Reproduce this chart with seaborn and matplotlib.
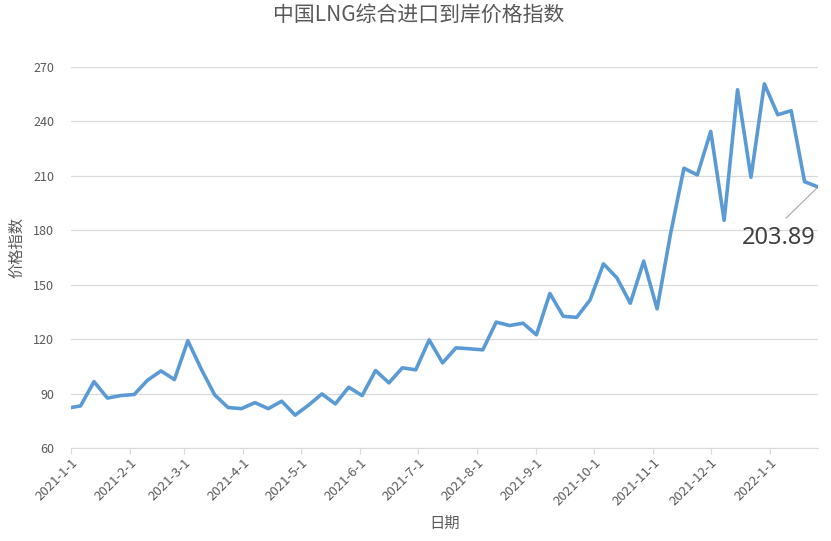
import pandas as pd
import matplotlib.pyplot as plt
import matplotlib.dates as mdates
import matplotlib.ticker as mticker
import seaborn as sns

# 数据：周度指数（2021-1-1 起，之后每周三）
dates = [pd.Timestamp("2021-01-01")] + list(pd.date_range("2021-01-06", "2022-01-26", freq="7D"))
values = [82.3, 83.2, 96.6, 87.5, 88.9, 89.5, 97.4, 102.5, 97.7, 119.1,
          103.5, 89.3, 82.3, 81.7, 85.0, 81.7, 85.8, 78.1, 83.6, 89.8,
          84.3, 93.5, 88.9, 102.7, 95.9, 104.2, 103.1, 119.6, 106.9, 115.2,
          114.7, 114.1, 129.4, 127.5, 128.8, 122.4, 145.2, 132.6, 132.0, 141.6,
          161.5, 153.8, 139.8, 163.0, 136.7, 178.0, 214.2, 210.5, 234.5, 185.5,
          257.5, 209.2, 260.7, 243.7, 245.9, 206.8, 203.89]
month_ticks = pd.date_range("2021-01-01", "2022-01-01", freq="MS")
month_labels = [f"{d.year}-{d.month}-{d.day}" for d in month_ticks]
y_ticks = [60, 90, 120, 150, 180, 210, 240, 270]

df = pd.DataFrame({"date": dates, "value": values})

sns.set_style("white")
plt.rcParams['font.family'] = ['Noto Sans CJK SC', 'DejaVu Sans']

fig = plt.figure(figsize=(8.31, 5.41), dpi=100)
ax = fig.add_axes([71 / 831, (541 - 448) / 541, (818 - 71) / 831, (448 - 67) / 541])

sns.lineplot(data=df, x="date", y="value", ax=ax, color="#5b9bd5", linewidth=2.6)

ax.set_xlim(dates[0], dates[-1])
ax.set_ylim(60, 270)
ax.set_yticks(y_ticks)
ax.xaxis.set_major_locator(mticker.FixedLocator(mdates.date2num(month_ticks)))
ax.set_xticklabels(month_labels, rotation=45, ha="right", rotation_mode="anchor")

ax.grid(axis="y", color="#d9d9d9", linewidth=0.9)
for s in ["top", "right", "left"]:
    ax.spines[s].set_visible(False)
ax.spines["bottom"].set_color("#d9d9d9")
ax.tick_params(axis="x", bottom=True, length=4, color="#d9d9d9", labelsize=9.5, labelcolor="#595959", pad=2)
ax.tick_params(axis="y", left=False, length=0, labelsize=9, labelcolor="#595959", pad=12)

ax.set_xlabel("日期", fontsize=11, color="#595959")
ax.xaxis.set_label_coords(0.5, -0.176)
ax.set_ylabel("价格指数", fontsize=11, color="#595959")
ax.yaxis.set_label_coords(-0.061, 0.525)
fig.text(0.504, 0.972, "中国LNG综合进口到岸价格指数", ha="center", va="center",
         fontsize=15, color="#595959")

ax.annotate(f"{values[-1]:.2f}", xy=(dates[-1], values[-1]), xytext=(-28, -37),
            textcoords="offset points", ha="center", va="center",
            fontsize=17, color="#404040", family=['Noto Sans', 'DejaVu Sans'],
            arrowprops=dict(arrowstyle="-", color="#a6a6a6", lw=0.8,
                            relpos=(0.48, 1.0), shrinkA=5, shrinkB=1),
            annotation_clip=False)

fig.savefig("out.png", dpi=100)
